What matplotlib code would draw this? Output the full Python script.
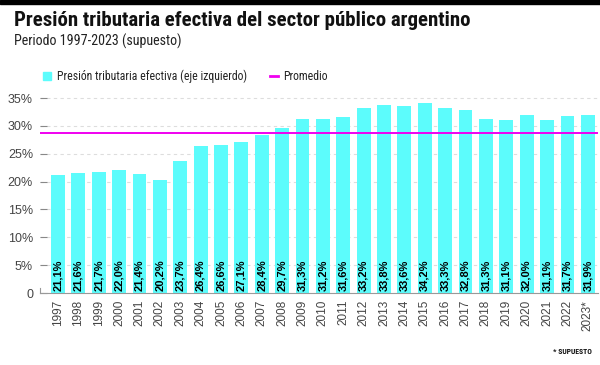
import numpy as np
import matplotlib
matplotlib.use("Agg")
import matplotlib.pyplot as plt
from matplotlib.patches import Rectangle
from matplotlib.lines import Line2D
from matplotlib import font_manager

years = ["1997", "1998", "1999", "2000", "2001", "2002", "2003", "2004", "2005",
         "2006", "2007", "2008", "2009", "2010", "2011", "2012", "2013", "2014",
         "2015", "2016", "2017", "2018", "2019", "2020", "2021", "2022", "2023*"]
presion = [21.1, 21.6, 21.7, 22.0, 21.4, 20.2, 23.7, 26.4, 26.6, 27.1, 28.4, 29.7,
           31.3, 31.2, 31.6, 33.2, 33.8, 33.6, 34.2, 33.3, 32.8, 31.3, 31.1, 32.0,
           31.1, 31.7, 31.9]
promedio = float(np.mean(presion))
yticks = [0, 5, 10, 15, 20, 25, 30, 35]
ytick_labels = ["0", "5%", "10%", "15%", "20%", "25%", "30%", "35%"]

title = "Presión tributaria efectiva del sector público argentino"
subtitle = "Periodo 1997-2023 (supuesto)"
legend_bar = "Presión tributaria efectiva (eje izquierdo)"
legend_line = "Promedio"
footnote = "* SUPUESTO"

installed = {f.name for f in font_manager.fontManager.ttflist}
cond_candidates = ["Roboto Condensed", "Liberation Sans Narrow", "Open Sans Condensed",
                   "DejaVu Sans Condensed"]
COND = [f for f in cond_candidates if f in installed]
narrow_ok = bool(COND and COND[0] != "DejaVu Sans Condensed")
NARROW = (COND[:1] if narrow_ok else []) + ["Liberation Sans", "DejaVu Sans"]
REG = ["Liberation Sans", "DejaVu Sans"]

CYAN = "#5cfcfc"
MAGENTA = "#f000f0"

if narrow_ok:
    fs_title, fs_sub, fs_leg = 15.0, 10.1, 8.5
else:
    fs_title, fs_sub, fs_leg = 12.6, 9.0, 7.6

fig = plt.figure(figsize=(6.0, 3.65), dpi=100)
fig.patch.set_facecolor("white")

fig.add_artist(Rectangle((0, 1 - 4/365), 1, 4/365, transform=fig.transFigure,
                         color="black", zorder=10))

ax = fig.add_axes([40/600, 1 - 293/365, 558/600, (293 - 92.5)/365])
x = np.arange(len(years))
ax.bar(x, presion, width=0.68, color=CYAN, zorder=2)
ax.axhline(promedio, color=MAGENTA, lw=1.4, zorder=3)

for xi, v in zip(x, presion):
    ax.text(xi, 0.4, f"{v:.1f}%".replace(".", ","), rotation=90, ha="center",
            va="bottom", fontsize=8, fontweight="bold", color="black",
            family=REG, zorder=4)

ax.set_xlim(-0.88, len(years) - 0.5)
ax.set_ylim(0, 36)
ax.set_yticks(yticks)
ax.set_yticklabels(ytick_labels)
ax.set_xticks(x)
ax.set_xticklabels(years, rotation=90)
for lab in ax.get_xticklabels() + ax.get_yticklabels():
    lab.set_family(REG)
    lab.set_color("#444444")
for lab in ax.get_xticklabels():
    lab.set_fontsize(8.5)
for lab in ax.get_yticklabels():
    lab.set_fontsize(9)
ax.tick_params(axis="x", length=0, pad=5)
ax.tick_params(axis="y", length=5, direction="in", color="#888888", pad=5)
ax.grid(axis="y", color="#dddddd", linestyle=(0, (3, 3)), lw=0.8, zorder=0)
for s in ["top", "right"]:
    ax.spines[s].set_visible(False)
ax.spines["left"].set_bounds(0, 0.9)
ax.spines["left"].set_color("#999999")
ax.spines["bottom"].set_color("#999999")

fig.text(14/600, 1 - 20/365, title, fontsize=fs_title, fontweight="bold",
         family=NARROW, va="center", ha="left", color="#111111")
fig.text(14/600, 1 - 41/365, subtitle, fontsize=fs_sub,
         family=NARROW, va="center", ha="left", color="#222222")

fig.add_artist(Rectangle((43/600, 1 - 80/365), 8/600, 8/365,
                         transform=fig.transFigure, color=CYAN))
fig.text(57/600, 1 - 76/365, legend_bar, fontsize=fs_leg,
         family=NARROW, va="center", ha="left", color="#222222")
fig.add_artist(Line2D([270/600, 278/600], [1 - 76/365, 1 - 76/365],
                      transform=fig.transFigure, color=MAGENTA, lw=2))
fig.text(283/600, 1 - 76/365, legend_line, fontsize=fs_leg,
         family=NARROW, va="center", ha="left", color="#222222")

fig.text(592/600, 1 - 352/365, footnote, fontsize=5.5, fontweight="bold",
         family=NARROW, va="center", ha="right", color="#111111")

fig.savefig("out.png", dpi=100)
